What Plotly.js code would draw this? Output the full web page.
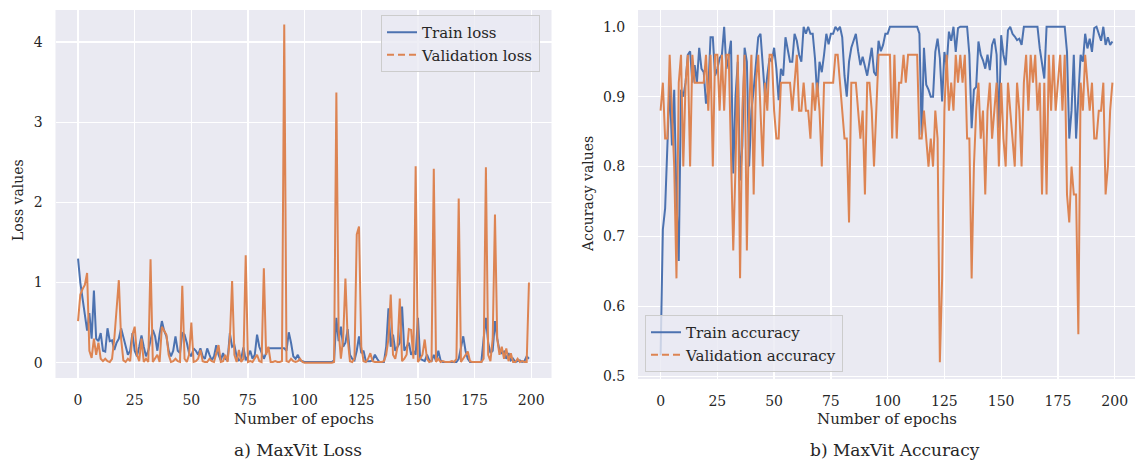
<!DOCTYPE html>
<html>
<head>
<meta charset="utf-8">
<script src="https://cdn.plot.ly/plotly-3.0.1.min.js"></script>
<style>
  html, body { margin: 0; padding: 0; background: #ffffff; }
  #chart { width: 1135px; height: 464px; }
</style>
</head>
<body>
<div id="chart"></div>
<script>
// MaxViT training history: 200 epochs of loss and accuracy.
const trainLoss = [
  1.30, 1.00, 0.80, 0.62, 0.40, 0.62, 0.30, 0.90, 0.30, 0.27,
  0.37, 0.15, 0.14, 0.43, 0.27, 0.28, 0.16, 0.25, 0.30, 0.43,
  0.33, 0.20, 0.10, 0.15, 0.37, 0.15, 0.08, 0.20, 0.34, 0.20,
  0.08, 0.15, 0.30, 0.41, 0.33, 0.15, 0.36, 0.52, 0.40, 0.33,
  0.15, 0.08, 0.15, 0.33, 0.15, 0.12, 0.37, 0.35, 0.25, 0.12,
  0.08, 0.18, 0.15, 0.10, 0.18, 0.08, 0.05, 0.18, 0.10, 0.03,
  0.08, 0.22, 0.10, 0.03, 0.12, 0.05, 0.03, 0.37, 0.20, 0.22,
  0.08, 0.03, 0.05, 0.19, 0.03, 0.08, 0.15, 0.05, 0.10, 0.35,
  0.20, 0.12, 0.05, 0.12, 0.18, 0.18, 0.18, 0.18, 0.18, 0.18,
  0.18, 0.18, 0.15, 0.38, 0.25, 0.08, 0.05, 0.10, 0.03, 0.02,
  0.01, 0.01, 0.01, 0.01, 0.01, 0.01, 0.01, 0.01, 0.01, 0.01,
  0.01, 0.01, 0.01, 0.03, 0.56, 0.27, 0.45, 0.20, 0.25, 0.42,
  0.10, 0.05, 0.03, 0.15, 0.33, 0.12, 0.15, 0.02, 0.02, 0.02,
  0.03, 0.10, 0.05, 0.01, 0.01, 0.01, 0.20, 0.68, 0.20, 0.35,
  0.15, 0.20, 0.25, 0.70, 0.15, 0.20, 0.25, 0.10, 0.15, 0.10,
  0.56, 0.05, 0.03, 0.02, 0.10, 0.03, 0.02, 0.10, 0.02, 0.15,
  0.03, 0.01, 0.01, 0.01, 0.01, 0.01, 0.01, 0.01, 0.05, 0.20,
  0.33, 0.15, 0.05, 0.01, 0.01, 0.01, 0.01, 0.01, 0.01, 0.30,
  0.56, 0.25, 0.12, 0.15, 0.52, 0.30, 0.15, 0.12, 0.14, 0.05,
  0.12, 0.03, 0.05, 0.01, 0.02, 0.03, 0.01, 0.02, 0.08, 0.05
];

const valLoss = [
  0.52, 0.85, 0.92, 0.97, 1.12, 0.15, 0.06, 0.30, 0.10, 0.25,
  0.05, 0.02, 0.05, 0.02, 0.01, 0.05, 0.30, 0.70, 1.03, 0.30,
  0.03, 0.01, 0.05, 0.02, 0.35, 0.45, 0.10, 0.02, 0.30, 0.01,
  0.05, 0.01, 1.29, 0.01, 0.05, 0.10, 0.01, 0.45, 0.40, 0.35,
  0.10, 0.01, 0.02, 0.05, 0.02, 0.01, 0.96, 0.05, 0.01, 0.10,
  0.50, 0.01, 0.02, 0.05, 0.16, 0.02, 0.01, 0.01, 0.05, 0.02,
  0.01, 0.10, 0.22, 0.01, 0.02, 0.10, 0.01, 0.30, 1.02, 0.10,
  0.01, 0.16, 0.01, 0.05, 1.34, 0.01, 0.02, 0.01, 0.05, 0.10,
  0.02, 0.01, 1.18, 0.10, 0.20, 0.01, 0.01, 0.02, 0.01, 0.01,
  0.02, 4.22, 0.02, 0.01, 0.05, 0.02, 0.01, 0.02, 0.05, 0.01,
  0.00, 0.00, 0.00, 0.00, 0.00, 0.00, 0.00, 0.00, 0.00, 0.00,
  0.00, 0.00, 0.00, 0.01, 3.37, 0.40, 0.05, 0.30, 1.05, 0.30,
  0.02, 0.01, 0.05, 1.60, 1.70, 0.20, 0.02, 0.01, 0.05, 0.12,
  0.02, 0.01, 0.01, 0.01, 0.01, 0.02, 0.10, 0.30, 0.85, 0.10,
  0.05, 0.20, 0.80, 0.02, 0.05, 0.10, 0.42, 0.41, 0.05, 2.45,
  0.01, 0.05, 0.10, 0.29, 0.05, 0.01, 0.02, 2.42, 0.01, 0.05,
  0.01, 0.02, 0.01, 0.01, 0.01, 0.02, 0.01, 0.05, 2.05, 0.01,
  0.05, 0.10, 0.14, 0.02, 0.01, 0.01, 0.01, 0.01, 0.01, 0.05,
  2.44, 0.10, 0.02, 0.30, 1.85, 0.30, 0.10, 0.20, 0.05, 0.18,
  0.02, 0.12, 0.01, 0.01, 0.05, 0.01, 0.02, 0.01, 0.01, 1.00
];

const trainAcc = [
  0.53, 0.71, 0.74, 0.83, 0.92, 0.83, 0.91, 0.75, 0.665, 0.91,
  0.90, 0.92, 0.96, 0.965, 0.92, 0.945, 0.92, 0.97, 0.94, 0.935,
  0.89, 0.91, 0.985, 0.985, 0.93, 0.94, 0.955, 0.96, 1.00, 0.94,
  0.957, 0.98, 0.79, 0.90, 0.95, 0.78, 0.83, 0.97, 0.95, 0.80,
  0.88, 0.91, 0.95, 0.985, 0.99, 0.945, 0.90, 0.93, 0.955, 0.95,
  0.97, 0.94, 0.895, 0.94, 0.93, 0.985, 0.97, 0.95, 0.95, 0.99,
  0.98, 0.96, 0.95, 1.00, 0.99, 1.00, 0.99, 0.99, 0.955, 0.90,
  0.95, 0.935, 0.96, 0.99, 0.975, 0.99, 0.99, 1.00, 0.995, 1.00,
  0.985, 0.93, 0.90, 0.95, 0.97, 0.98, 0.99, 0.965, 0.945, 0.957,
  0.945, 0.93, 0.95, 0.97, 0.935, 0.93, 0.98, 0.965, 0.974, 0.99,
  0.99, 1.00, 1.00, 1.00, 1.00, 1.00, 1.00, 1.00, 1.00, 1.00,
  1.00, 1.00, 1.00, 1.00, 0.99, 0.845, 0.97, 0.917, 0.91, 0.90,
  0.90, 0.964, 0.983, 0.955, 0.893, 0.964, 0.945, 0.993, 0.98, 1.00,
  0.964, 0.998, 1.00, 1.00, 1.00, 1.00, 0.96, 0.855, 0.91, 0.914,
  0.979, 0.96, 0.952, 0.94, 0.96, 0.938, 0.974, 0.983, 0.96, 0.855,
  0.988, 0.96, 0.945, 0.995, 1.00, 0.99, 0.986, 0.981, 0.983, 0.974,
  1.00, 1.00, 1.00, 1.00, 1.00, 1.00, 1.00, 0.969, 0.95, 0.926,
  1.00, 1.00, 1.00, 1.00, 1.00, 1.00, 1.00, 1.00, 1.00, 0.964,
  0.84, 0.88, 0.96, 0.84, 0.90, 0.96, 0.95, 0.99, 0.969, 0.983,
  0.964, 0.998, 1.00, 0.99, 0.98, 1.00, 0.974, 0.985, 0.974, 0.979
];

const valAcc = [
  0.88, 0.92, 0.84, 0.84, 0.96, 0.88, 0.80, 0.64, 0.92, 0.96,
  0.80, 0.92, 0.96, 0.80, 0.96, 0.92, 0.92, 0.92, 0.92, 0.92,
  0.96, 0.88, 0.96, 0.80, 0.96, 0.96, 0.88, 0.96, 0.88, 0.96,
  0.96, 0.84, 0.68, 0.80, 0.96, 0.64, 0.88, 0.96, 0.68, 0.88,
  0.96, 0.76, 0.92, 0.96, 0.88, 0.80, 0.92, 0.88, 0.96, 0.96,
  0.88, 0.84, 0.84, 0.92, 0.92, 0.92, 0.92, 0.92, 0.88, 0.92,
  0.96, 0.88, 0.88, 0.92, 0.88, 0.88, 0.84, 0.92, 0.88, 0.92,
  0.88, 0.80, 0.92, 0.92, 0.92, 0.92, 0.92, 0.96, 0.96, 0.92,
  0.88, 0.84, 0.84, 0.72, 0.92, 0.92, 0.92, 0.88, 0.84, 0.88,
  0.76, 0.92, 0.92, 0.88, 0.80, 0.88, 0.96, 0.96, 0.96, 0.96,
  0.96, 0.96, 0.84, 0.96, 0.84, 0.92, 0.92, 0.96, 0.92, 0.96,
  0.96, 0.96, 0.96, 0.96, 0.84, 0.84, 0.88, 0.84, 0.80, 0.84,
  0.80, 0.88, 0.84, 0.52, 0.64, 0.88, 0.96, 0.88, 0.92, 0.88,
  0.96, 0.92, 0.96, 0.92, 0.96, 0.84, 0.84, 0.64, 0.80, 0.88,
  0.92, 0.84, 0.88, 0.76, 0.88, 0.92, 0.84, 0.88, 0.92, 0.80,
  0.92, 0.84, 0.80, 0.92, 0.88, 0.84, 0.80, 0.92, 0.88, 0.80,
  0.92, 0.96, 0.88, 0.96, 0.92, 0.96, 0.88, 0.92, 0.76, 0.92,
  0.76, 0.96, 0.88, 0.96, 0.88, 0.92, 0.96, 0.88, 0.96, 0.76,
  0.72, 0.80, 0.76, 0.76, 0.56, 0.92, 0.88, 0.96, 0.92, 0.88,
  0.92, 0.84, 0.84, 0.88, 0.88, 0.92, 0.76, 0.80, 0.88, 0.92
];

const epochTicks = [0, 25, 50, 75, 100, 125, 150, 175, 200];
const lossTicks = [0, 1, 2, 3, 4];
const accTicks = [0.5, 0.6, 0.7, 0.8, 0.9, 1.0];

const seriesNames = {
  trainLoss: 'Train loss', valLoss: 'Validation loss',
  trainAcc: 'Train accuracy', valAcc: 'Validation accuracy'
};
const axisTitles = { x: 'Number of epochs', lossY: 'Loss values', accY: 'Accuracy values' };
const captions = ['a) MaxVit Loss', 'b) MaxVit Accuracy'];

const epochs = trainLoss.map((_, i) => i);

const BLUE = '#4C72B0';
const ORANGE = '#DD8452';
const FONT = 'DejaVu Serif, Liberation Serif, serif';
const INK = '#262626';

function line(y, color, name, xa, ya) {
  return {
    x: epochs, y: y, type: 'scatter', mode: 'lines', name: name,
    xaxis: xa, yaxis: ya, showlegend: false, hoverinfo: 'skip',
    line: { color: color, width: 2 }
  };
}
// Legend entries (solid for training, dashed for validation)
function key(color, name, dash, legendId, xa, ya) {
  return {
    x: [null], y: [null], type: 'scatter', mode: 'lines', name: name,
    xaxis: xa, yaxis: ya, legend: legendId, showlegend: true,
    line: { color: color, width: 2, dash: dash }
  };
}

const traces = [
  line(trainLoss, BLUE, seriesNames.trainLoss, 'x', 'y'),
  line(valLoss, ORANGE, seriesNames.valLoss, 'x', 'y'),
  line(trainAcc, BLUE, seriesNames.trainAcc, 'x2', 'y2'),
  line(valAcc, ORANGE, seriesNames.valAcc, 'x2', 'y2'),
  key(BLUE, seriesNames.trainLoss, 'solid', 'legend', 'x', 'y'),
  key(ORANGE, seriesNames.valLoss, '7px,4px', 'legend', 'x', 'y'),
  key(BLUE, seriesNames.trainAcc, 'solid', 'legend2', 'x2', 'y2'),
  key(ORANGE, seriesNames.valAcc, '7px,4px', 'legend2', 'x2', 'y2')
];

const W = 1135, H = 464;
const px = v => v / W;
const py = v => 1 - v / H;

const xCommon = {
  tickvals: epochTicks, ticks: 'outside', ticklen: 9, tickcolor: 'rgba(0,0,0,0)',
  showgrid: true, gridcolor: '#ffffff', gridwidth: 1.3,
  zeroline: false, showline: false,
  tickfont: { family: FONT, size: 14, color: INK }
};
const yCommon = {
  ticks: 'outside', ticklen: 9, tickcolor: 'rgba(0,0,0,0)',
  showgrid: true, gridcolor: '#ffffff', gridwidth: 1.3,
  zeroline: false, showline: false,
  tickfont: { family: FONT, size: 14, color: INK }
};

const legendCommon = {
  bgcolor: 'rgba(234,234,242,0.8)', bordercolor: '#cccccc', borderwidth: 1,
  font: { family: FONT, size: 15, color: INK },
  xanchor: 'left', itemwidth: 30, tracegroupgap: 0
};

const annText = (text, x, y, size, extra) => Object.assign({
  text: text, xref: 'paper', yref: 'paper', x: x, y: y,
  xanchor: 'center', yanchor: 'middle', showarrow: false,
  font: { family: FONT, size: size, color: INK }
}, extra || {});

const layout = {
  width: W, height: H,
  margin: { l: 0, r: 0, t: 0, b: 0 },
  paper_bgcolor: '#ffffff',
  plot_bgcolor: '#EAEAF2',
  xaxis: Object.assign({}, xCommon, { domain: [px(55.5), px(551.5)], range: [-9.95, 208.95], anchor: 'y' }),
  yaxis: Object.assign({}, yCommon, { domain: [py(378), py(10)], range: [-0.19, 4.40], tickvals: lossTicks, anchor: 'x' }),
  xaxis2: Object.assign({}, xCommon, { domain: [px(638), 1], range: [-9.95, 208.95], anchor: 'y2' }),
  yaxis2: Object.assign({}, yCommon, { domain: [py(379), py(10)], range: [0.496, 1.024], tickvals: accTicks, tickformat: '.1f', anchor: 'x2' }),
  legend: Object.assign({}, legendCommon, { x: px(381), y: py(15), yanchor: 'top' }),
  legend2: Object.assign({}, legendCommon, { x: px(645), y: py(372), yanchor: 'bottom' }),
  annotations: [
    annText(axisTitles.x, px(303.5), py(419), 15),
    annText(axisTitles.x, px(886.5), py(419), 15),
    annText(axisTitles.lossY, px(18), py(200), 14, { textangle: -90 }),
    annText(axisTitles.accY, px(588), py(194), 14, { textangle: -90 }),
    annText(captions[0], px(298), py(450), 17),
    annText(captions[1], px(895), py(450), 17)
  ],
  showlegend: true
};

Plotly.newPlot('chart', traces, layout, { displayModeBar: false, staticPlot: true });
</script>
</body>
</html>
